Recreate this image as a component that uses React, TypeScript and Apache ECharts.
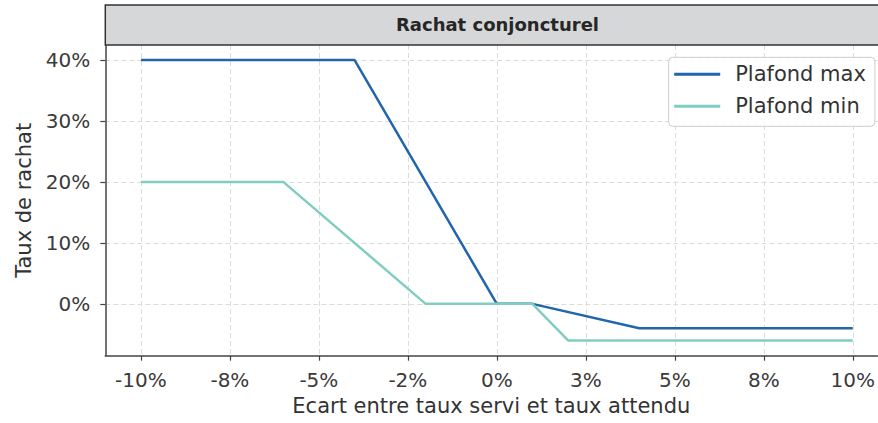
import React, { useEffect, useRef } from "react";
import * as echarts from "echarts";

const xTicks = [-10, -7.5, -5, -2.5, 0, 2.5, 5, 7.5, 10];
const xTickLabels = ["-10%", "-8%", "-5%", "-2%", "0%", "3%", "5%", "8%", "10%"];
const yTicks = [0, 10, 20, 30, 40];
const yTickLabels = ["0%", "10%", "20%", "30%", "40%"];

const seriesNames = ["Plafond max", "Plafond min"];
const maxX = [-10, -4, 0, 1, 4, 10];
const maxY = [40, 40, 0, 0, -4, -4];
const minX = [-10, -6, -2, 1, 2, 10];
const minY = [20, 20, 0, 0, -6, -6];

const titleText = "Rachat conjoncturel";
const xName = "Ecart entre taux servi et taux attendu";
const yName = "Taux de rachat";

const FONT = "DejaVu Sans";

export default function App() {
  const ref = useRef<HTMLDivElement>(null);
  useEffect(() => {
    if (!ref.current) return;
    const chart = echarts.init(ref.current, undefined, { renderer: "svg" });
    const labelFor = (ticks: number[], labels: string[]) => (v: number) => {
      const i = ticks.findIndex((t) => Math.abs(t - v) < 1e-6);
      return i >= 0 ? labels[i] : "";
    };
    const gridLine = { show: true, lineStyle: { color: "#dcdcdc", width: 1, type: [5, 3] as any } };
    chart.setOption({
      animation: false,
      backgroundColor: "#ffffff",
      textStyle: { fontFamily: FONT },
      grid: { left: 105.3, right: 0, top: 45, bottom: 67.3, containLabel: false },
      xAxis: {
        type: "value",
        min: -11,
        max: 10.69,
        name: xName,
        nameLocation: "middle",
        nameGap: 40,
        nameTextStyle: { fontSize: 21, color: "#333", fontFamily: FONT },
        axisLine: { show: true, onZero: false, lineStyle: { color: "#444", width: 1.5 } },
        axisTick: { show: true, length: 5, inside: false, customValues: xTicks, lineStyle: { color: "#444", width: 1.2 } },
        axisLabel: {
          customValues: xTicks,
          formatter: labelFor(xTicks, xTickLabels),
          fontSize: 20,
          color: "#3a3a3a",
          margin: 14,
          fontFamily: FONT,
          showMinLabel: true,
          showMaxLabel: true,
        },
        splitLine: gridLine,
      },
      yAxis: {
        type: "value",
        min: -8.5,
        max: 42.45,
        name: yName,
        nameLocation: "middle",
        nameGap: 70,
        nameRotate: 90,
        nameTextStyle: { fontSize: 21, color: "#333", fontFamily: FONT },
        axisLine: { show: true, onZero: false, lineStyle: { color: "#444", width: 1.5 } },
        axisTick: { show: true, length: 5, inside: false, customValues: yTicks, lineStyle: { color: "#444", width: 1.2 } },
        axisLabel: {
          customValues: yTicks,
          formatter: labelFor(yTicks, yTickLabels),
          fontSize: 20,
          color: "#3a3a3a",
          margin: 15,
          fontFamily: FONT,
        },
        splitLine: gridLine,
      },
      legend: {
        left: 668.7,
        top: 57.3,
        orient: "vertical",
        icon: "rect",
        itemWidth: 46,
        itemHeight: 3,
        itemGap: 10,
        padding: [6, 9, 9, 5.5],
        backgroundColor: "rgba(255,255,255,0.85)",
        borderColor: "#cccccc",
        borderWidth: 1,
        borderRadius: 4,
        textStyle: { fontSize: 21, lineHeight: 22, color: "#333", fontFamily: FONT, padding: [0, 0, 0, 10] },
        data: seriesNames,
      },
      graphic: [
        {
          type: "rect",
          shape: { x: 105.3, y: 5, width: 800, height: 40 },
          style: { fill: "#d6d7d9", stroke: "#333333", lineWidth: 1.5 },
          z: 100,
        },
        {
          type: "text",
          x: 497.5,
          y: 24.5,
          style: {
            text: titleText,
            fontSize: 18,
            fontWeight: "bold",
            fontFamily: FONT,
            fill: "#262626",
            align: "center",
            verticalAlign: "middle",
          },
          z: 101,
        },
      ],
      series: [
        {
          name: seriesNames[0],
          type: "line",
          data: maxX.map((x, i) => [x, maxY[i]]),
          showSymbol: false,
          symbol: "none",
          lineStyle: { color: "#2166ac", width: 2.5 },
          itemStyle: { color: "#2166ac" },
        },
        {
          name: seriesNames[1],
          type: "line",
          data: minX.map((x, i) => [x, minY[i]]),
          showSymbol: false,
          symbol: "none",
          lineStyle: { color: "#80cdc1", width: 2.5 },
          itemStyle: { color: "#80cdc1" },
        },
      ],
    });
    return () => chart.dispose();
  }, []);
  return (
    <div
      ref={ref}
      style={{ position: "absolute", left: 0, top: 0, width: 878, height: 423 }}
    />
  );
}
